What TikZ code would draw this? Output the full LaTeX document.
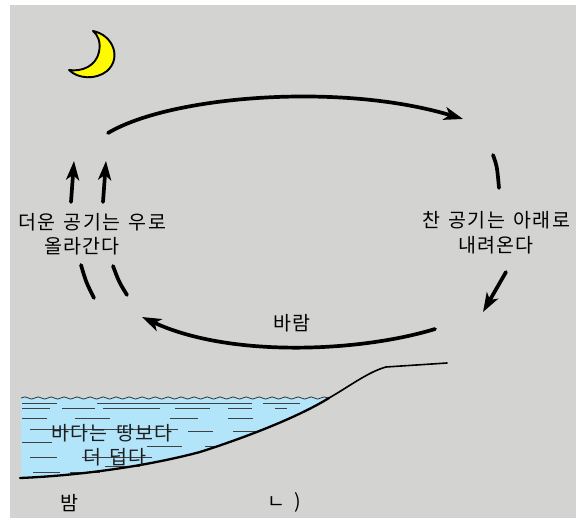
\documentclass[tikz,border=0pt]{standalone}
\usepackage{fontspec}
\newfontfamily\kr[LetterSpace=6,WordSpace=1.6]{Noto Sans CJK KR}
\usetikzlibrary{arrows.meta,decorations.pathmorphing}
\definecolor{bggray}{RGB}{211,211,209}
\definecolor{seablue}{RGB}{178,228,250}
\definecolor{moonyellow}{RGB}{255,250,0}
\definecolor{inkgray}{RGB}{30,30,30}
\tikzset{
  label/.style={font=\kr\fontsize{19.5}{22}\selectfont, inner sep=0pt, text=black},
  sealabel/.style={label, text=inkgray},
  flow/.style={line width=3.7pt, line cap=round, draw=black},
  flowtip/.style={flow, -{Stealth[length=19pt,width=13pt,inset=5pt]}},
  hatch/.style={line width=0.7pt, draw=black!75},
  shore/.style={line width=2.3pt, line cap=round, line join=round},
}
\begin{document}
\begin{tikzpicture}[x=1pt,y=-1pt]
  \useasboundingbox (0,0) rectangle (576,518);
  % backdrop
  \fill[white] (0,0) rectangle (576,518);
  \fill[bggray] (10,5) rectangle (576,518);

  % moon
  \filldraw[fill=moonyellow, draw=black, line width=1.9pt, line join=round]
    (93,31) .. controls (113,35) and (122,58) .. (107,71)
            .. controls (96,80) and (78,79) .. (69,70)
            .. controls (82,72) and (96,66) .. (99,52)
            .. controls (101,42) and (98,35) .. (93,31) -- cycle;

  % circulation coordinates
  \coordinate (topS) at (108,133);
  \coordinate (topE) at (463,119);
  \coordinate (rS) at (493,155);
  \coordinate (rE) at (499,188);
  \coordinate (dS) at (506,272);
  \coordinate (dE) at (483,312);
  \coordinate (bS) at (435,329);
  \coordinate (bE) at (142,317);
  \coordinate (l1S) at (81,265);
  \coordinate (l1E) at (94,298);
  \coordinate (l2S) at (113,266);
  \coordinate (l2E) at (127,295);
  \coordinate (u1S) at (71,202);
  \coordinate (u1E) at (74,161);
  \coordinate (u2S) at (103,202);
  \coordinate (u2E) at (106,161);

  % air flow: upper branch
  \draw[flowtip] (topS) .. controls (170,96) and (340,82) .. (topE);
  % descending cold air
  \draw[flow] (rS) .. controls (497,166) .. (rE);
  \draw[flowtip] (dS) -- (dE);
  % surface wind
  \draw[flowtip] (bS) .. controls (360,352) and (230,358) .. (bE);
  % rising warm air
  \draw[flow] (l1S) .. controls (86,282) .. (l1E);
  \draw[flow] (l2S) .. controls (119,282) .. (l2E);
  \draw[flowtip] (u1S) -- (u1E);
  \draw[flowtip] (u2S) -- (u2E);

  % labels of the circulation
  \node[label] (warm1) at (92,222) {더운 공기는 우로};
  \node[label] (warm2) at (82,246) {올라간다};
  \node[label] (cold1) at (496,220) {찬 공기는 아래로};
  \node[label] (cold2) at (496,245) {내려온다};
  \node[label] (wind) at (292,323) {바람};

  % sea
  \fill[seablue] (21,398) -- (329,398)
      .. controls (300,416) and (250,436) .. (200,452)
      .. controls (140,468) and (70,476) .. (21,478) -- cycle;
  \draw[line width=0.8pt, draw=black!80, decorate,
        decoration={snake, amplitude=1.1pt, segment length=13pt}]
      (21,398) -- (329,398);

  % water hatching
  \foreach \y/\a/\b in {
      403/22/57, 403/97/252, 403/263/300,
      408/22/50, 408/62/95, 408/103/160, 408/175/210, 408/228/252, 408/275/287,
      418/22/47, 418/75/110, 418/170/198, 418/228/253,
      429/30/178,
      431/188/213, 431/233/258,
      442/22/52,
      446/147/182, 446/205/218,
      457/30/57, 457/82/152,
      466/105/140,
      472/33/60, 472/70/100}
    \draw[hatch] (\a,\y) -- (\b,\y);

  % shore and land
  \draw[shore] (20,478) .. controls (70,476) and (140,468) .. (200,452)
      .. controls (250,436) and (300,416) .. (329,398);
  \draw[line width=1.6pt, line cap=round, line join=round]
      (329,398) .. controls (350,386) and (368,372) .. (386,367)
      -- (447,363);

  \node[sealabel] (sea1) at (112,433) {바다는 땅보다};
  \node[sealabel] (sea2) at (115,457) {더 덥다};

  % captions
  \node[label] (night) at (69,503) {밤};
  \node[label] (mark) at (284,502) {ㄴ )};
\end{tikzpicture}
\end{document}
